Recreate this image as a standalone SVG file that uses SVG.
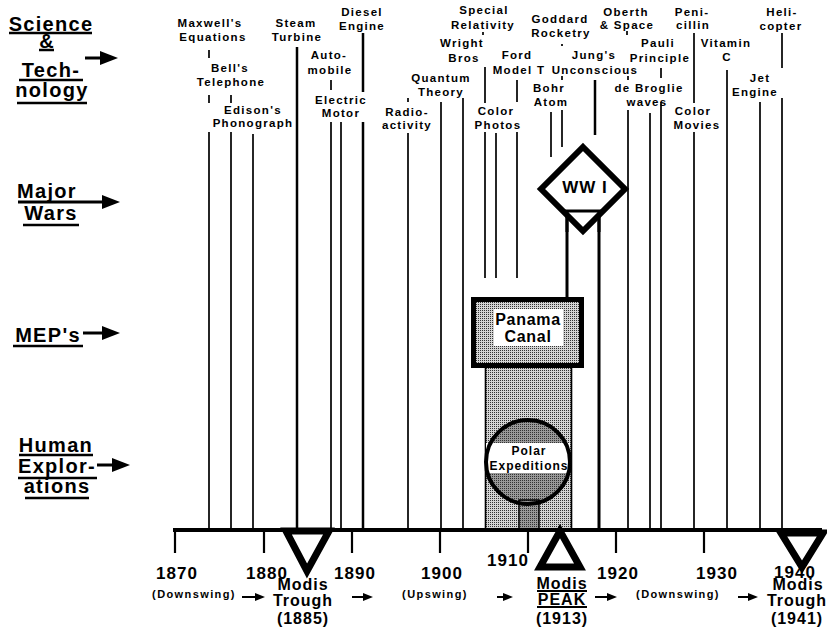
<svg xmlns="http://www.w3.org/2000/svg" width="827" height="627" viewBox="0 0 827 627">
<defs>
<style>
.t{font-family:"Liberation Sans",Arial,Helvetica,sans-serif;font-weight:bold;fill:#000;text-anchor:middle}
.sc{font-size:11.5px;letter-spacing:1.3px}
.lab{font-size:20px;letter-spacing:1.3px}
.yr{font-size:17px;letter-spacing:1px}
.md{font-size:16px;letter-spacing:1px}
.sw{font-size:11px;letter-spacing:1.4px}
.ln{stroke:#000;stroke-width:1.7;fill:none}
.lnb{stroke:#000;stroke-width:2.5;fill:none}
.thk{stroke:#000;stroke-width:3;fill:none}
.ul{stroke:#000;stroke-width:2.5}
.arr{stroke:#000;stroke-width:3;fill:none;marker-end:url(#ah)}
.sarr{stroke:#000;stroke-width:2;fill:none;marker-end:url(#as)}
.tri{fill:#fff;stroke:#000;stroke-width:7;stroke-linejoin:miter}
</style>
<marker id="ah" markerUnits="userSpaceOnUse" markerWidth="18" markerHeight="14" refX="10" refY="7" orient="auto"><path d="M0,0 L18,7 L0,14 Z" fill="#000"/></marker>
<marker id="as" markerUnits="userSpaceOnUse" markerWidth="10" markerHeight="8" refX="5" refY="4" orient="auto"><path d="M0,0 L10,4 L0,8 Z" fill="#000"/></marker>
<pattern id="st1" width="2" height="2" patternUnits="userSpaceOnUse"><rect width="2" height="2" fill="#d4d4d4"/><rect width="1" height="1" fill="#333"/></pattern>
<pattern id="st2" width="2" height="2" patternUnits="userSpaceOnUse"><rect width="2" height="2" fill="#999"/><rect width="1" height="1" fill="#333"/></pattern>
</defs>
<rect width="827" height="627" fill="#fff"/>

<!-- row labels -->
<g id="label-science">
<text class="t lab" x="51" y="31">Science</text>
<text class="t lab" x="47" y="47.5">&amp;</text>
<text class="t lab" x="51" y="77">Tech-</text>
<text class="t lab" x="52" y="97">nology</text>
<line class="ul" x1="9" y1="33" x2="92" y2="33"/>
<line class="ul" x1="39" y1="50" x2="54" y2="50"/>
<line class="ul" x1="19" y1="80" x2="83" y2="80"/>
<line class="ul" x1="17" y1="103" x2="87" y2="103"/>
<path class="arr" d="M85 58H110"/>
</g>
<g id="label-wars">
<text class="t lab" x="47" y="198">Major</text>
<text class="t lab" x="51" y="220">Wars</text>
<line class="ul" x1="23" y1="225" x2="79" y2="225"/>
<path class="arr" d="M18 202H112"/>
</g>
<g id="label-meps">
<text class="t lab" x="48" y="342">MEP's</text>
<line class="ul" x1="13" y1="346" x2="83" y2="346"/>
<path class="arr" d="M83 333H112"/>
</g>
<g id="label-explorations">
<text class="t lab" x="56" y="452">Human</text>
<text class="t lab" x="57" y="473">Explor-</text>
<text class="t lab" x="57" y="493">ations</text>
<line class="ul" x1="19" y1="455" x2="93" y2="455"/>
<line class="ul" x1="18" y1="478" x2="97" y2="478"/>
<line class="ul" x1="25" y1="498" x2="89" y2="498"/>
<path class="arr" d="M97 465H122"/>
</g>

<!-- connectors: timeline stems -->
<g id="connectors">
<path class="ln" d="M209 50V58M209 95V103M209 132V528"/>
<path class="ln" d="M231 95V103M231 132V528"/>
<path class="ln" d="M253 134V528"/>
<path class="lnb" d="M297 47V528"/>
<path class="ln" d="M331 80V90M331 122V528"/>
<path class="ln" d="M341 122V528"/>
<path class="lnb" d="M363 33V92M363 122V528"/>
<path class="ln" d="M408 98V102M408 133V528"/>
<path class="ln" d="M441 102V528"/>
<path class="ln" d="M463 98V528"/>
<path class="ln" d="M483 32V35M485 67V103M485 132V278"/>
<path class="ln" d="M496 133V278"/>
<path class="ln" d="M517 80V102M517 132V278"/>
<path class="ln" d="M551 112V157"/>
<path class="ln" d="M562 44V46M562 76V80M562 110V147"/>
<path class="lnb" d="M595 80V135"/>
<path class="ln" d="M627 31V35M628 76V80M628 110V528"/>
<path class="ln" d="M650 113V528"/>
<path class="ln" d="M661 68V78M661 102V528"/>
<path class="ln" d="M694 33V103M694 132V528"/>
<path class="ln" d="M727 70V528"/>
<path class="ln" d="M760 102V528"/>
<path class="ln" d="M782 33V68M782 98V528"/>
<path class="thk" d="M567 211V297"/>
<path class="thk" d="M599 211V528"/>
</g>

<!-- science & technology labels -->
<g id="sci-maxwell"><text class="t sc" x="210" y="26.5">Maxwell's</text><text class="t sc" x="213" y="40.5">Equations</text></g>
<g id="sci-bell"><text class="t sc" x="230" y="72">Bell's</text><text class="t sc" x="231" y="86">Telephone</text></g>
<g id="sci-edison"><text class="t sc" x="253" y="114">Edison's</text><text class="t sc" x="253" y="127">Phonograph</text></g>
<g id="sci-steam"><text class="t sc" x="296" y="27">Steam</text><text class="t sc" x="297" y="41">Turbine</text></g>
<g id="sci-diesel"><text class="t sc" x="362" y="15.5">Diesel</text><text class="t sc" x="362" y="29.5">Engine</text></g>
<g id="sci-auto"><text class="t sc" x="329" y="59">Auto-</text><text class="t sc" x="330" y="73.5">mobile</text></g>
<g id="sci-motor"><text class="t sc" x="341" y="103.5">Electric</text><text class="t sc" x="341" y="117">Motor</text></g>
<g id="sci-radio"><text class="t sc" x="407" y="115.5">Radio-</text><text class="t sc" x="407" y="128.5">activity</text></g>
<g id="sci-quantum"><text class="t sc" x="441" y="81.5">Quantum</text><text class="t sc" x="441" y="95.5">Theory</text></g>
<g id="sci-wright"><text class="t sc" x="462" y="46.5">Wright</text><text class="t sc" x="464" y="61.5">Bros</text></g>
<g id="sci-relativity"><text class="t sc" x="484" y="14">Special</text><text class="t sc" x="483" y="28.5">Relativity</text></g>
<g id="sci-colorphotos"><text class="t sc" x="496" y="114.5">Color</text><text class="t sc" x="498" y="128.5">Photos</text></g>
<g id="sci-ford"><text class="t sc" x="517" y="58.5">Ford</text><text class="t sc" x="519" y="73.5">Model T</text></g>
<g id="sci-goddard"><text class="t sc" x="560" y="23">Goddard</text><text class="t sc" x="561" y="37">Rocketry</text></g>
<g id="sci-jung"><text class="t sc" x="594" y="58.5">Jung's</text><text class="t sc" x="595" y="73.5">Unconscious</text></g>
<g id="sci-bohr"><text class="t sc" x="549" y="91.5">Bohr</text><text class="t sc" x="551" y="106">Atom</text></g>
<g id="sci-oberth"><text class="t sc" x="626" y="15.5">Oberth</text><text class="t sc" x="627" y="29">&amp; Space</text></g>
<g id="sci-pauli"><text class="t sc" x="658" y="46.5">Pauli</text><text class="t sc" x="660" y="61.5">Principle</text></g>
<g id="sci-debroglie"><text class="t sc" x="649" y="91.5">de Broglie</text><text class="t sc" x="647" y="106">waves</text></g>
<g id="sci-penicillin"><text class="t sc" x="692" y="15.5">Peni-</text><text class="t sc" x="693" y="29">cillin</text></g>
<g id="sci-colormovies"><text class="t sc" x="693" y="114.5">Color</text><text class="t sc" x="697" y="128.5">Movies</text></g>
<g id="sci-vitamin"><text class="t sc" x="726" y="47">Vitamin</text><text class="t sc" x="727" y="61">C</text></g>
<g id="sci-jet"><text class="t sc" x="760" y="81.5">Jet</text><text class="t sc" x="755" y="95.5">Engine</text></g>
<g id="sci-heli"><text class="t sc" x="782" y="15.5">Heli-</text><text class="t sc" x="781" y="29.5">copter</text></g>

<!-- WW I -->
<g id="ww1">
<polygon points="583,147 625,189 583,231 541,189" fill="#fff" stroke="#000" stroke-width="6" stroke-linejoin="miter"/>
<line x1="562" y1="211" x2="604" y2="211" stroke="#000" stroke-width="3"/>
<path class="thk" d="M567 211V232M599 211V232"/>
<text class="t" x="585" y="193" style="font-size:17px;letter-spacing:1px">WW I</text>
</g>

<!-- Polar expeditions column -->
<g id="polar">
<rect x="485" y="368" width="87" height="162" fill="url(#st1)"/>
<path d="M485.5 368V530M571.5 368V530" stroke="#000" stroke-width="1.6"/>
<circle cx="528" cy="462" r="42" fill="url(#st2)"/>
<rect x="519" y="500" width="20" height="30" fill="url(#st2)" stroke="#000" stroke-width="1.5"/>
<rect x="486" y="443" width="84" height="30" fill="#fff"/>
<circle cx="528" cy="462" r="42" fill="none" stroke="#000" stroke-width="4"/>
<text class="t" x="529" y="455" style="font-size:12px;letter-spacing:1px">Polar</text>
<text class="t" x="529" y="470" style="font-size:12px;letter-spacing:1px">Expeditions</text>
</g>

<!-- Panama Canal -->
<g id="panama">
<rect x="473.5" y="299.5" width="108" height="66" fill="url(#st1)" stroke="#000" stroke-width="5"/>
<rect x="494" y="309" width="69" height="37" fill="#fff"/>
<text class="t" x="528" y="325" style="font-size:16px;letter-spacing:0.7px">Panama</text>
<text class="t" x="528" y="342" style="font-size:16px;letter-spacing:0.7px">Canal</text>
</g>

<!-- axis -->
<g id="axis">
<line x1="173" y1="530" x2="822" y2="530" stroke="#000" stroke-width="4"/>
<path d="M175 530V553M264 530V553M352 530V553M440 530V553M528 530V553M616 530V553M704 530V553" stroke="#000" stroke-width="2.2"/>
<text class="t yr" x="177" y="579">1870</text>
<text class="t yr" x="267" y="579">1880</text>
<text class="t yr" x="355" y="579">1890</text>
<text class="t yr" x="442" y="579">1900</text>
<text class="t yr" x="508" y="566">1910</text>
<text class="t yr" x="618" y="579">1920</text>
<text class="t yr" x="717" y="579">1930</text>
<text class="t yr" x="795" y="578">1940</text>
</g>

<!-- phases -->
<g id="phases">
<text class="t sw" x="194" y="598">(Downswing)</text>
<text class="t sw" x="435" y="598">(Upswing)</text>
<text class="t sw" x="678" y="598">(Downswing)</text>
<path class="sarr" d="M242 597H260"/>
<path class="sarr" d="M352 597H368"/>
<path class="sarr" d="M497 597H508"/>
<path class="sarr" d="M595 597H612"/>
<path class="sarr" d="M738 597H753"/>
</g>

<g id="trough-1885">
<polygon class="tri" points="286,531 329,531 307,571"/>
<text class="t md" x="303" y="590">Modis</text>
<text class="t md" x="303" y="606">Trough</text>
<text class="t md" x="303" y="624">(1885)</text>
</g>

<g id="peak-1913">
<polygon class="tri" points="560,531 580,567 540,567"/>
<text class="t md" x="562" y="589">Modis</text>
<line x1="537" y1="591" x2="587" y2="591" stroke="#000" stroke-width="2"/>
<text class="t md" x="562" y="605">PEAK</text>
<line x1="537" y1="607" x2="587" y2="607" stroke="#000" stroke-width="2"/>
<text class="t md" x="562" y="624">(1913)</text>
</g>

<g id="trough-1941">
<polygon class="tri" points="781,533 823,533 802,567"/>
<text class="t md" x="798" y="590">Modis</text>
<text class="t md" x="797" y="606">Trough</text>
<text class="t md" x="797" y="624">(1941)</text>
</g>
</svg>
